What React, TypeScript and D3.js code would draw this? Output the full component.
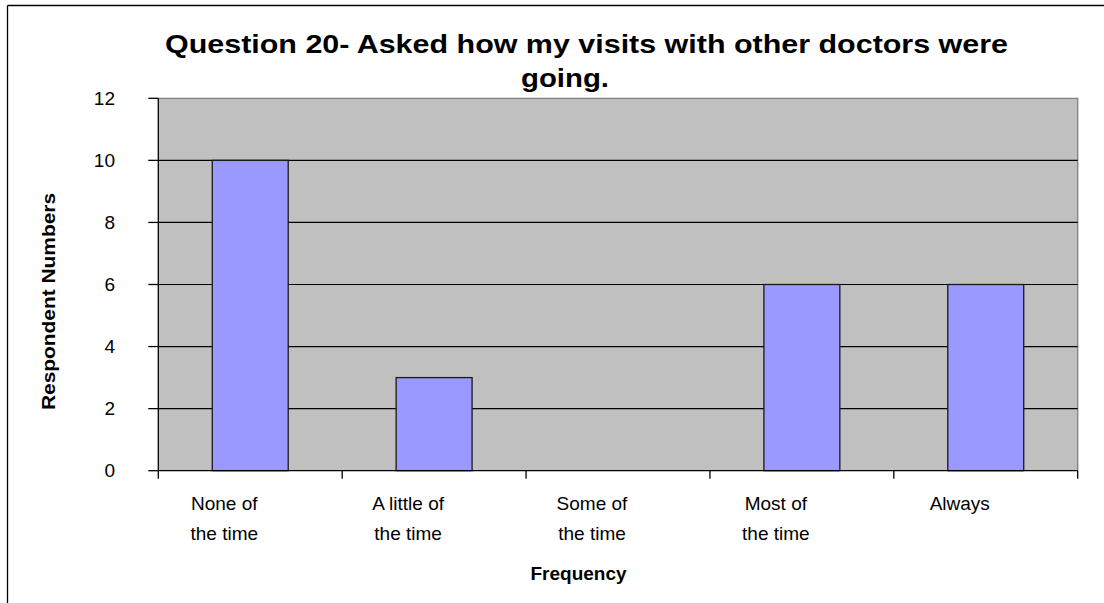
import React from "react";
import * as d3 from "d3";

const categories: string[][] = [
  ["None of", "the time"],
  ["A little of", "the time"],
  ["Some of", "the time"],
  ["Most of", "the time"],
  ["Always"],
];
const categoryKeys = ["None", "Little", "Some", "Most", "Always"];
const values = [10, 3, 0, 6, 6];
const yTicks = [0, 2, 4, 6, 8, 10, 12];
const titleLines = ["Question 20- Asked how my visits with other doctors were", "going."];
const xTitle = "Frequency";
const yTitle = "Respondent Numbers";

const W = 1104;
const H = 603;
const plot = { left: 158.3, right: 1077.7, top: 98.3, bottom: 470.7 };
const FONT = "'Liberation Sans', Arial, Helvetica, sans-serif";

export default function App() {
  const x = d3
    .scaleBand<string>()
    .domain(categoryKeys)
    .range([plot.left, plot.right])
    .paddingInner(0.587)
    .paddingOuter(0.2935);
  const y = d3.scaleLinear().domain([0, 12]).range([plot.bottom, plot.top]);
  const step = x.step();
  const boundaries = d3.range(categoryKeys.length + 1).map((i) => plot.left + i * step);

  return (
    <svg
      width={W}
      height={H}
      style={{ position: "absolute", left: 0, top: 0, background: "#fff" }}
      fontFamily={FONT}
    >
      {/* outer chart border (top + left) */}
      <line x1={7.5} x2={W} y1={5.5} y2={5.5} stroke="#000" strokeWidth={1.3} />
      <line x1={7.5} x2={7.5} y1={5.5} y2={H} stroke="#000" strokeWidth={1.3} />

      {/* title */}
      <text x={165} y={53.3} fontSize={25} fontWeight="bold" textLength={843} lengthAdjust="spacingAndGlyphs" fill="#000">
        {titleLines[0]}
      </text>
      <text x={521} y={87} fontSize={25} fontWeight="bold" textLength={88} lengthAdjust="spacingAndGlyphs" fill="#000">
        {titleLines[1]}
      </text>

      {/* plot background */}
      <rect
        x={plot.left}
        y={plot.top}
        width={plot.right - plot.left}
        height={plot.bottom - plot.top}
        fill="#C0C0C0"
      />
      {/* top & right plot border */}
      <path
        d={`M${plot.left},${plot.top}H${plot.right}V${plot.bottom}`}
        fill="none"
        stroke="#808080"
        strokeWidth={1.3}
      />

      {/* gridlines */}
      {yTicks
        .filter((t) => t > 0 && t < 12)
        .map((t) => (
          <line key={t} x1={plot.left} x2={plot.right} y1={y(t)} y2={y(t)} stroke="#000" strokeWidth={1.2} />
        ))}

      {/* bars */}
      {categoryKeys.map((k, i) =>
        values[i] > 0 ? (
          <rect
            key={k}
            x={x(k)}
            y={y(values[i])}
            width={x.bandwidth()}
            height={y(0) - y(values[i])}
            fill="#9999FF"
            stroke="#1a1a1a"
            strokeWidth={1.3}
          />
        ) : null
      )}

      {/* y axis */}
      <line x1={plot.left} x2={plot.left} y1={plot.top} y2={plot.bottom} stroke="#000" strokeWidth={1.3} />
      {yTicks.map((t) => (
        <g key={t}>
          <line x1={plot.left - 10} x2={plot.left} y1={y(t)} y2={y(t)} stroke="#000" strokeWidth={1.3} />
          <text x={115} y={y(t) + 6.5} fontSize={19} textAnchor="end" fill="#000">
            {t}
          </text>
        </g>
      ))}

      {/* x axis */}
      <line x1={plot.left} x2={plot.right} y1={plot.bottom} y2={plot.bottom} stroke="#000" strokeWidth={1.3} />
      {boundaries.map((bx, i) => (
        <line key={i} x1={bx} x2={bx} y1={plot.bottom} y2={plot.bottom + 8} stroke="#000" strokeWidth={1.3} />
      ))}
      {categoryKeys.map((k, i) => {
        const cx = (x(k) as number) + x.bandwidth() / 2 - 26;
        return (
          <text key={k} x={cx} fontSize={19} textAnchor="middle" fill="#000">
            {categories[i].map((line, j) => (
              <tspan key={j} x={cx} y={510 + j * 30}>
                {line}
              </tspan>
            ))}
          </text>
        );
      })}

      {/* axis titles */}
      <text x={578.5} y={580} fontSize={19} fontWeight="bold" textAnchor="middle" fill="#000">
        {xTitle}
      </text>
      <text
        transform={`translate(54.5,301.5) rotate(-90)`}
        fontSize={18}
        fontWeight="bold"
        textAnchor="middle"
        textLength={217}
        lengthAdjust="spacingAndGlyphs"
        fill="#000"
      >
        {yTitle}
      </text>
    </svg>
  );
}
